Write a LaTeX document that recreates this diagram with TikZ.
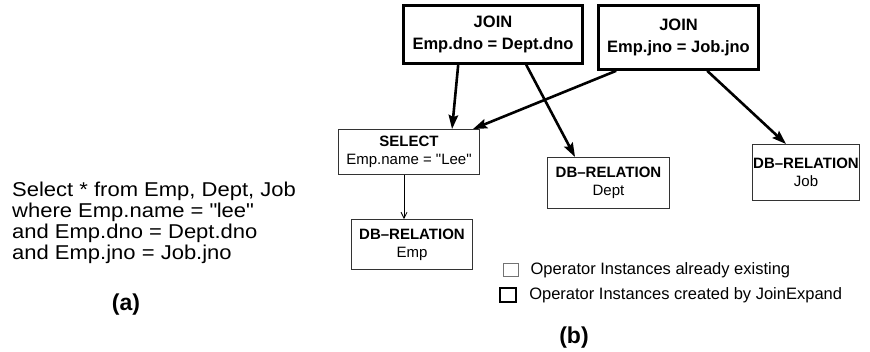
\documentclass[tikz,border=0pt]{standalone}
\usepackage{fontspec}
\setmainfont{Liberation Sans}
\newfontfamily\queryfont[FakeStretch=1.1]{Liberation Sans}
\usetikzlibrary{arrows.meta,positioning}
\tikzset{
	newop/.style={draw, line width=2.6pt, align=center, inner sep=0pt, font=\bfseries\fontsize{16.5}{22}\selectfont}, % made by the join step
	oldop/.style={draw=black!80, line width=0.9pt, align=center, inner sep=0pt, font=\fontsize{15}{18}\selectfont},
	bigedge/.style={line width=2.6pt, -{Stealth[length=14pt,width=9.5pt,inset=2pt]}},
	smalledge/.style={line width=0.8pt, -{Straight Barb[length=6pt,width=6pt]}},
	keytext/.style={inner sep=0pt, font=\fontsize{16.5}{18}\selectfont},
	tag/.style={font=\bfseries\fontsize{23}{23}\selectfont},
}

\begin{document}
\begin{tikzpicture}[x=1pt,y=-1pt]
			% whole page, pixel units
			\useasboundingbox (0,0) rectangle (870,352);
			
			% the query on the left
			\node[anchor=north west, align=left, inner sep=0pt, font=\queryfont\fontsize{20}{21}\selectfont] (query) at (12,182) {Select * from Emp, Dept, Job\\where Emp.name = \textquotedbl lee\textquotedbl\\and Emp.dno = Dept.dno\\and Emp.jno = Job.jno};
			\node[tag] (taga) at (126,305) {(a)};
			
			% operator tree
			\node[newop, minimum width=179pt, minimum height=58pt] (joina) at (493,34.5) {JOIN\\Emp.dno = Dept.dno};
			\node[newop, minimum width=160pt, minimum height=64pt] (joinb) at (678.5,37.5) {JOIN\\Emp.jno = Job.jno};
			\node[oldop, minimum width=141pt, minimum height=45pt] (select) at (409,152) {\textbf{SELECT}\\Emp.name = \textquotedbl Lee\textquotedbl};
			\node[oldop, minimum width=121pt, minimum height=50pt] (emp) at (412,244.5) {\textbf{DB--RELATION}\\Emp};
			\node[oldop, minimum width=122pt, minimum height=51pt] (dept) at (608.5,183) {\textbf{DB--RELATION}\\Dept};
			\node[oldop, minimum width=107pt, minimum height=56pt] (job) at (806,172.5) {\textbf{DB--RELATION}\\Job};
			
			% edges out of the joins
			\draw[bigedge] ([xshift=56pt]joina.south west) -- ([xshift=114pt]select.north west);
			\draw[bigedge] ([xshift=124pt]joina.south west) -- ([xshift=28pt]dept.north west);
			\draw[bigedge] ([xshift=19pt]joinb.south west) -- ([xshift=-7pt]select.north east);
			\draw[bigedge] ([xshift=110pt]joinb.south west) -- ([xshift=34pt]job.north west);
			\draw[smalledge] ([xshift=-5pt]select.south) -- ([xshift=-8pt]emp.north);
			
			% key
			\node[oldop, draw=black!55, minimum width=15pt, minimum height=13pt] (keyold) at (511,270) {};
			\node[newop, line width=2.2pt, minimum width=16pt, minimum height=14pt] (keynew) at (508,295) {};
			\node[keytext, right=11.5pt of keyold] (keyoldtext) {Operator Instances already existing};
			\node[keytext, right=12pt of keynew] (keynewtext) {Operator Instances created by JoinExpand};
			\node[tag] (tagb) at (574,338) {(b)};
			
			\end{tikzpicture}
\end{document}
